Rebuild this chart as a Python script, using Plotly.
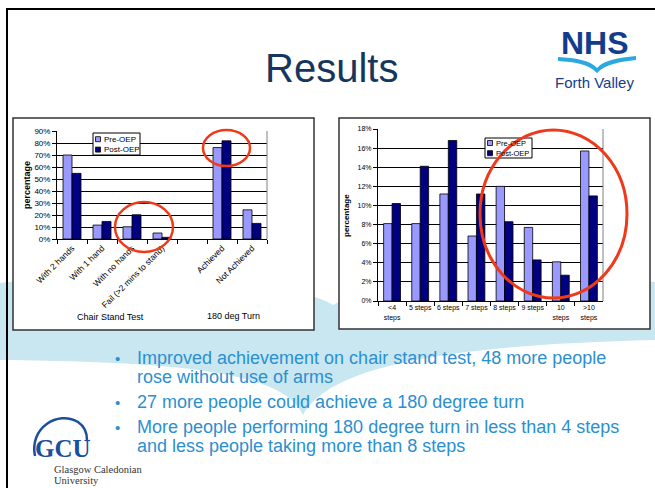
import plotly.graph_objects as go

W, H = 655, 488

# ---------------- data ----------------
series_names = ["Pre-OEP", "Post-OEP"]

chair_cats = ["With 2 hands", "With 1 hand", "With no hands", "Fail (>2 mins to stand)",
              " ", "Achieved", "Not Achieved"]
chair_pre = [70.0, 11.6, 10.2, 5.0, None, 76.2, 24.3]
chair_post = [54.7, 14.6, 20.2, 1.4, None, 81.8, 13.0]
chair_yticks = [0, 10, 20, 30, 40, 50, 60, 70, 80, 90]
chair_groups = ["Chair Stand Test", "180 deg Turn"]

step_cats = ["<4<br>steps", "5 steps", "6 steps", "7 steps", "8 steps", "9 steps",
             "10<br>steps", ">10<br>steps"]
step_pre = [8.1, 8.1, 11.2, 6.8, 12.0, 7.7, 4.1, 15.7]
step_post = [10.2, 14.1, 16.8, 11.2, 8.3, 4.3, 2.7, 11.0]
step_yticks = [0, 2, 4, 6, 8, 10, 12, 14, 16, 18]

title_text = "Results"
bullets = [
    ["Improved achievement on chair stand test, 48 more people", "rose without use of arms"],
    ["27 more people could achieve a 180 degree turn"],
    ["More people performing 180 degree turn in less than 4 steps",
     "and less people taking more than 8 steps"],
]

# ---------------- helpers ----------------
def PX(x):
    return x / W

def PY(y):
    return 1 - y / H

def path(cmds):
    out = []
    for c, pts in cmds:
        s = c
        for (x, y) in pts:
            s += " %.5f,%.5f" % (PX(x), PY(y))
        out.append(s)
    return " ".join(out)

SANS = "Arial, Liberation Sans, sans-serif"
SERIF = "Times New Roman, Liberation Serif, serif"
SERIES_COLORS = ["#9999ff", "#000080"]

fig = go.Figure()

for name, vals, col in zip(series_names, [chair_pre, chair_post], SERIES_COLORS):
    fig.add_trace(go.Bar(x=chair_cats, y=vals, name=name, marker_color=col,
                         marker_line=dict(color="black", width=0.8),
                         xaxis="x", yaxis="y", showlegend=False))
for name, vals, col in zip(series_names, [step_pre, step_post], SERIES_COLORS):
    fig.add_trace(go.Bar(x=step_cats, y=vals, name=name, marker_color=col,
                         marker_line=dict(color="black", width=0.8),
                         xaxis="x2", yaxis="y2", showlegend=False))

axis_common = dict(showline=True, linecolor="black", linewidth=1, ticks="outside",
                   tickcolor="black", ticklen=4, automargin=False)

fig.update_layout(
    width=W, height=H, autosize=False,
    margin=dict(l=0, r=0, t=0, b=0),
    paper_bgcolor="white", plot_bgcolor="rgba(0,0,0,0)",
    barmode="group", bargap=0.4, bargroupgap=0,
    font=dict(family=SANS, color="black"),
    showlegend=False,
    xaxis=dict(domain=[PX(57), PX(267)], anchor="y", type="category",
               tickson="boundaries", tickmode="linear", tick0=0, dtick=1,
               tickangle=-45, tickfont=dict(size=8.5), showgrid=False, **axis_common),
    yaxis=dict(domain=[PY(239), PY(131)], anchor="x", range=[0, 90],
               tickmode="array", tickvals=chair_yticks,
               ticktext=["%d%%" % v for v in chair_yticks],
               tickfont=dict(size=8), showgrid=True, gridcolor="black", gridwidth=1,
               zeroline=False, **axis_common),
    xaxis2=dict(domain=[PX(378), PX(603)], anchor="y2", type="category",
                tickson="boundaries", tickmode="linear", tick0=0, dtick=1,
                tickangle=0, tickfont=dict(size=7), showgrid=False, **axis_common),
    yaxis2=dict(domain=[PY(301), PY(129)], anchor="x2", range=[0, 18],
                tickmode="array", tickvals=step_yticks,
                ticktext=["%d%%" % v for v in step_yticks],
                tickfont=dict(size=7), showgrid=True, gridcolor="black", gridwidth=1,
                zeroline=False, **axis_common),
)

shapes = []
# background swoosh
shapes.append(dict(type="path", xref="paper", yref="paper", layer="below",
                   fillcolor="#c8e7f0", line=dict(width=0),
                   path=path([("M", [(0, 283)]),
                              ("C", [(150, 265), (290, 280), (333, 305)]),
                              ("C", [(380, 280), (520, 265), (655, 282)]),
                              ("L", [(655, 340)]),
                              ("C", [(450, 345), (330, 365), (303, 415)]),
                              ("C", [(285, 375), (200, 362), (0, 360)]),
                              ("Z", [])])))
# chart boxes
for (x0, y0, x1, y1) in [(13, 118, 314, 330), (339, 118, 650, 329)]:
    shapes.append(dict(type="rect", xref="paper", yref="paper", layer="below",
                       x0=PX(x0), x1=PX(x1), y0=PY(y1), y1=PY(y0),
                       fillcolor="white", line=dict(color="#333333", width=1.5)))
# slide border
shapes.append(dict(type="line", xref="paper", yref="paper", x0=PX(6), x1=PX(655),
                   y0=PY(9), y1=PY(9), line=dict(color="black", width=2)))
shapes.append(dict(type="line", xref="paper", yref="paper", x0=PX(7), x1=PX(7),
                   y0=PY(9), y1=PY(488), line=dict(color="black", width=2)))
# right plot-area borders
for xr, yr in [("x domain", "y domain"), ("x2 domain", "y2 domain")]:
    shapes.append(dict(type="line", xref=xr, yref=yr, x0=1, x1=1, y0=0, y1=1,
                       line=dict(color="#808080", width=1), layer="above"))

ann = []
def A(text, x, y, size, color="black", xanchor="center", family=SANS, angle=0, bold=False):
    if bold:
        text = "<b>" + text + "</b>"
    ann.append(dict(text=text, x=PX(x), y=PY(y), xref="paper", yref="paper",
                    xanchor=xanchor, yanchor="middle", showarrow=False, textangle=angle,
                    font=dict(size=size, color=color, family=family)))

# legends (box, swatches, labels)
for (bx0, by0, bx1, by1, sq, rows, fs) in [
        (93, 133, 140, 155, 5, [139.2, 149.6], 8),
        (485, 138, 532, 158, 5, [143.0, 153.2], 7.5)]:
    shapes.append(dict(type="rect", xref="paper", yref="paper", layer="above",
                       x0=PX(bx0), x1=PX(bx1), y0=PY(by1), y1=PY(by0),
                       fillcolor="white", line=dict(color="black", width=1)))
    for name, col, ry in zip(series_names, SERIES_COLORS, rows):
        shapes.append(dict(type="rect", xref="paper", yref="paper", layer="above",
                           x0=PX(bx0 + 2.5), x1=PX(bx0 + 2.5 + sq),
                           y0=PY(ry + sq / 2), y1=PY(ry - sq / 2),
                           fillcolor=col, line=dict(color="black", width=0.8)))
        A(name, bx0 + 8.5, ry, fs, xanchor="left")

# red highlight ellipses
for (x0, y0, x1, y1, w) in [(203, 130, 250, 166, 2.5), (115, 202, 173, 252, 2.5),
                            (480, 130, 627, 298, 3)]:
    shapes.append(dict(type="circle", xref="paper", yref="paper", layer="above",
                       x0=PX(x0), x1=PX(x1), y0=PY(y1), y1=PY(y0),
                       line=dict(color="#ee3a1a", width=w)))
# NHS wave
shapes.append(dict(type="path", xref="paper", yref="paper", layer="above",
                   fillcolor="#2aa9e0", line=dict(width=0),
                   path=path([("M", [(558, 57)]),
                              ("C", [(575, 58), (590, 60), (597, 68)]),
                              ("C", [(604, 60), (618, 58), (636, 56)]),
                              ("L", [(636, 60)]),
                              ("C", [(620, 62), (605, 64), (597, 73)]),
                              ("C", [(589, 64), (574, 62), (558, 61)]),
                              ("Z", [])])))
# GCU arc
shapes.append(dict(type="path", xref="paper", yref="paper", layer="above",
                   line=dict(color="#1a4f9c", width=2.5),
                   path=path([("M", [(35, 456)]),
                              ("C", [(29, 428), (58, 410), (78, 422)]),
                              ("C", [(84, 426), (87, 432), (87, 440)])])))
fig.update_layout(shapes=shapes)

A(title_text, 331, 68, 40, color="#17365d")
A("NHS", 595, 43, 32, color="#143c8c", bold=True)
A("Forth Valley", 594, 82, 15, color="#143c8c")
A("percentage", 27, 185, 9, angle=-90, bold=True)
A("percentage", 346, 215, 8, angle=-90, bold=True)
A(chair_groups[0], 110, 317, 9)
A(chair_groups[1], 233, 316, 9)

line_y = [[358, 377], [402], [427, 446]]
for lines, ys in zip(bullets, line_y):
    A("•", 113, ys[0], 15, color="#2b8fd1", xanchor="left")
    for t, y in zip(lines, ys):
        A(t, 135, y, 18, color="#2b8fd1", xanchor="left")

A("GCU", 63, 448, 25, color="#1a4f9c", family=SERIF, bold=True)
A("Glasgow Caledonian", 52, 469, 10.5, color="#333333", family=SERIF, xanchor="left")
A("University", 52, 480, 10.5, color="#333333", family=SERIF, xanchor="left")

fig.update_layout(annotations=ann)

fig.write_html("out.html")
